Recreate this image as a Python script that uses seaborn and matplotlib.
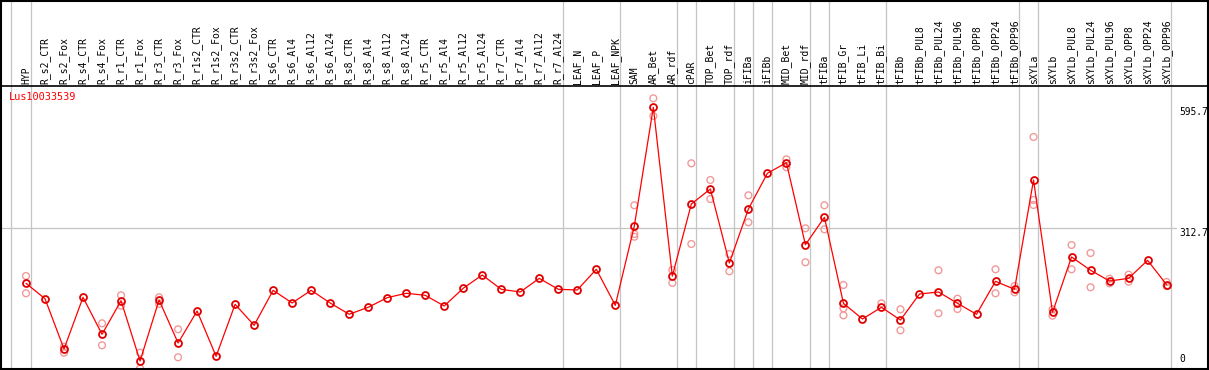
import numpy as np
import matplotlib
matplotlib.use("Agg")
import matplotlib.pyplot as plt
import seaborn as sns
import pandas as pd

# ---------------- data ----------------
gene = "Lus10033539"
samples = ["HYP", "R_s2_CTR", "R_s2_Fox", "R_s4_CTR", "R_s4_Fox", "R_r1_CTR", "R_r1_Fox",
           "R_r3_CTR", "R_r3_Fox", "R_r1s2_CTR", "R_r1s2_Fox", "R_r3s2_CTR", "R_r3s2_Fox",
           "R_s6_CTR", "R_s6_Al4", "R_s6_Al12", "R_s6_Al24", "R_s8_CTR", "R_s8_Al4",
           "R_s8_Al12", "R_s8_Al24", "R_r5_CTR", "R_r5_Al4", "R_r5_Al12", "R_r5_Al24",
           "R_r7_CTR", "R_r7_Al4", "R_r7_Al12", "R_r7_Al24", "LEAF_N", "LEAF_P", "LEAF_NPK",
           "SAM", "AR_Bet", "AR_rdf", "cPAR", "TOP_Bet", "TOP_rdf", "iFIBa", "iFIBb",
           "MID_Bet", "MID_rdf", "tFIBa", "tFIB_Gr", "tFIB_Li", "tFIB_Bi", "tFIBb",
           "tFIBb_PUL8", "tFIBb_PUL24", "tFIBb_PUL96", "tFIBb_OPP8", "tFIBb_OPP24",
           "tFIBb_OPP96", "sXYLa", "sXYLb", "sXYLb_PUL8", "sXYLb_PUL24", "sXYLb_PUL96",
           "sXYLb_OPP8", "sXYLb_OPP24", "sXYLb_OPP96"]

means = [184.1, 148.0, 30.4, 151.3, 64.8, 143.4, 2.3, 145.0, 44.4, 119.3, 13.3, 134.9, 85.8,
         167.7, 138.0, 167.7, 138.0, 111.6, 127.9, 150.4, 160.7, 156.0, 131.0, 172.4, 203.5,
         170.0, 163.7, 195.7, 170.0, 168.4, 216.8, 132.6,
         318.1, 595.7, 201.1, 369.5, 404.6, 231.5, 357.8, 441.3, 466.1, 274.3, 338.4,
         137.3, 100.6, 127.9, 98.2, 159.0, 163.7, 137.3, 111.6, 188.7, 170.0,
         425.6, 116.2, 245.6, 214.5, 189.4, 195.7, 237.8, 180.8]

nan = np.nan
rep_a = [201.1, nan, 35.8, nan, 90.5, 156.0, 21.7, 151.3, 76.5, nan, nan, nan, nan,
         nan, nan, nan, nan, nan, nan, nan, nan, nan, nan, nan, nan,
         nan, nan, nan, nan, nan, nan, nan,
         366.5, 616.7, 215.2, 464.7, 425.6, 252.6, 389.8, nan, 474.0, 312.7, 366.5,
         180.1, nan, 137.3, 123.2, nan, 214.5, 148.0, nan, 216.8, 177.7,
         526.2, 123.2, 273.6, 254.9, 194.8, 204.2, nan, 187.1]
rep_b = [160.7, nan, 21.7, nan, 39.1, 131.7, -15.0, 135.6, 11.0, nan, nan, nan, nan,
         nan, nan, nan, nan, nan, nan, nan, nan, nan, nan, nan, nan,
         nan, nan, nan, nan, nan, nan, nan,
         299.3, 575.3, 184.8, 276.0, 381.2, 212.1, 326.7, nan, 455.3, 233.2, 310.3,
         125.6, nan, nan, 74.1, nan, 113.9, 123.9, nan, 160.7, 163.0,
         378.9, 108.3, 216.8, 174.7, 184.1, 187.8, nan, 177.7]
rep_c = [nan] * 32 + [293.0] + [nan] * 10 + [109.2] + [nan] * 9 + [367.2] + [nan] * 7

group_breaks = [-1, 0, 28, 31, 34, 35, 37, 38, 39, 41, 42, 45, 52, 53, 60]
axis_marks = [595.7, 312.7, 0]

# ---------------- geometry (pixel mapping) ----------------
W, H = 1209, 370
X0, DX = 26.0, 19.01          # pixel x of first sample, spacing
Y0, DY = 362.0, 0.4276        # pixel y of value 0, pixels per unit

def vx(px):
    return (px - X0) / DX

def vy(py):
    return (Y0 - py) / DY

sns.set_style("white")
plt.rcParams["font.family"] = ["DejaVu Sans Mono", "DejaVu Sans"]

fig = plt.figure(figsize=(W / 100, H / 100), dpi=100)
ax = fig.add_axes([1 / W, 1 / H, (W - 2) / W, (H - 2) / H])
ax.set_xlim(vx(1), vx(W - 1))
ax.set_ylim(vy(H - 1), vy(1))
ax.set_xticks([])
ax.set_yticks([])
for s in ax.spines.values():
    s.set_color("black")
    s.set_linewidth(1.5)
    s.set_visible(True)

grid_c = "#c4c4c4"
# vertical group separators (full height incl. label band)
for b in group_breaks:
    xb = b + 4.5 / DX
    ax.plot([xb, xb], [vy(368), vy(0)], color=grid_c, lw=0.9, zorder=1,
            solid_capstyle="butt", clip_on=False)
# horizontal reference line
ax.plot([vx(0), vx(1176)], [axis_marks[1]] * 2, color=grid_c, lw=0.9, zorder=1)
# label band separator
ax.plot([vx(0), vx(W)], [vy(85.5)] * 2, color="black", lw=1.2, zorder=4)

idx = np.arange(len(samples))
df = pd.DataFrame({"i": idx, "mean": means})
reps = pd.DataFrame({"i": np.concatenate([idx, idx, idx]),
                     "val": np.concatenate([rep_a, rep_b, rep_c])}).dropna()

sns.scatterplot(data=reps, x="i", y="val", ax=ax, marker="o", s=24,
                facecolor="none", edgecolor="#f19a9a", linewidth=1.0, zorder=2, legend=False)
sns.lineplot(data=df, x="i", y="mean", ax=ax, color="#ff0000", lw=0.9, sort=False,
             marker="o", markersize=5, markerfacecolor="none", markeredgecolor="#e00000",
             markeredgewidth=1.3, zorder=3, legend=False)
ax.set_xlabel("")
ax.set_ylabel("")

# sample labels (rotated)
for i, name in enumerate(samples):
    ax.text(i, vy(83.5), name, rotation=90, ha="center", va="bottom",
            fontsize=7.0, color="black", zorder=5)

# gene title
ax.text(vx(9), vy(92), gene, ha="left", va="top", fontsize=7.4, color="#ff0000", zorder=5)

# right value marks
for m in axis_marks:
    ypos = m if m > 0 else vy(364.5)
    va = "top" if m > 0 else "bottom"
    ax.text(vx(1179), ypos, f"{m:g}", ha="left", va=va, fontsize=6.9, color="black", zorder=5)

fig.savefig("out.png", dpi=100)
